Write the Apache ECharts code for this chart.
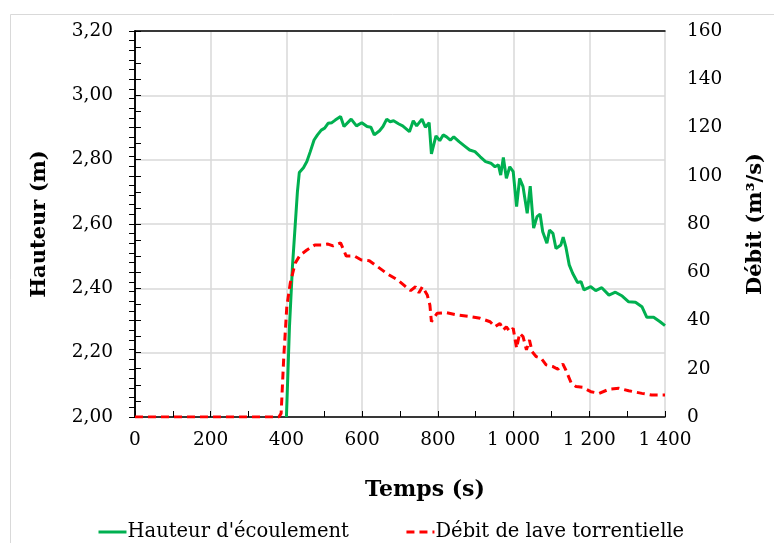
<!DOCTYPE html>
<html>
<head>
<meta charset="utf-8">
<script src="https://cdn.jsdelivr.net/npm/echarts@6/dist/echarts.min.js"></script>
<style>html,body{margin:0;padding:0;background:#fff}#c{width:774px;height:543px}</style>
</head>
<body>
<div id="c"></div>
<script>
// Data (time in s)
const hauteurTime = [400,408,416,429,434,445,454,463,473,482,492,501,510,520,529,543,552,571,585,599,613,623,632,646,655,665,674,683,697,707,725,735,744,758,767,777,783,795,805,814,823,833,842,856,870,884,898,912,926,940,951,960,966,973,981,990,999,1008,1016,1025,1036,1044,1053,1062,1070,1077,1088,1095,1104,1112,1125,1131,1138,1147,1156,1169,1178,1186,1204,1217,1233,1252,1269,1287,1304,1322,1339,1352,1370,1387,1400];
const hauteurValues = [2.00,2.28,2.47,2.70,2.76,2.775,2.794,2.825,2.861,2.877,2.892,2.898,2.913,2.915,2.923,2.934,2.903,2.926,2.905,2.915,2.903,2.901,2.877,2.890,2.903,2.926,2.918,2.921,2.911,2.905,2.887,2.921,2.905,2.926,2.901,2.915,2.818,2.874,2.859,2.877,2.871,2.861,2.871,2.856,2.843,2.830,2.825,2.809,2.794,2.789,2.778,2.784,2.752,2.807,2.742,2.778,2.763,2.654,2.742,2.716,2.633,2.718,2.587,2.623,2.631,2.576,2.540,2.581,2.571,2.524,2.535,2.559,2.529,2.473,2.447,2.418,2.421,2.395,2.405,2.393,2.402,2.379,2.388,2.376,2.358,2.357,2.343,2.310,2.310,2.296,2.284];
const debitTime = [0,100,200,300,380,386,393,401,410,423,436,454,475,493,510,523,543,558,580,598,619,641,667,694,715,728,741,750,759,772,779,783,798,824,851,885,912,938,951,964,973,981,990,999,1008,1016,1025,1034,1042,1049,1060,1073,1086,1104,1117,1130,1138,1152,1165,1182,1204,1226,1252,1278,1304,1339,1365,1400];
const debitValues = [0,0,0,0,0,1.5,25,45.7,55.4,63.7,67.1,69.2,71.3,71.3,71.7,70.9,72.2,66.7,66.7,65.1,64.8,62.3,59.3,56.8,54,52.4,54,51.5,54,50.6,46.4,39.5,43,43.2,42.3,41.6,40.9,39.5,37.4,38.8,36.1,37.4,35.4,36.8,28.5,34.7,33.3,27.8,31.9,27.1,25,24.3,21.6,20.9,19.8,22,19.5,14.2,12.6,12.3,10.5,9.8,11.5,11.9,10.9,9.8,9.1,9.1];
const seriesNames = ["Hauteur d'écoulement", "Débit de lave torrentielle"];
const xTitle = "Temps (s)";
const yLeftTitle = "Hauteur (m)";
const yRightTitle = "Débit (m³/s)";

const FONT = "DejaVu Serif";
const zip = (a, b) => a.map((t, i) => [t, b[i]]);
const fmtX = v => { const s = String(Math.round(v)); return s.length > 3 ? s.slice(0, -3) + ' ' + s.slice(-3) : s; };

const chart = echarts.init(document.getElementById('c'), null, {renderer: 'canvas'});
chart.setOption({
  animation: false,
  backgroundColor: '#fff',
  graphic: [{type: 'rect', shape: {x: 10.5, y: 14.5, width: 900, height: 700}, style: {fill: 'none', stroke: '#d9d9d9', lineWidth: 1}, silent: true, z: -1}],
  grid: {left: 135, right: 104, top: 31, bottom: 126, containLabel: false},
  legend: {
    left: 92, top: 517, itemWidth: 28, itemHeight: 14, itemGap: 56,
    itemStyle: {opacity: 0},
    lineStyle: {width: 3},
    textStyle: {fontFamily: FONT, fontSize: 19.5, color: '#000', padding: [0, 0, 0, -4]},
    data: seriesNames
  },
  xAxis: [{
    type: 'value', min: 0, max: 1400, interval: 200,
    axisLine: {show: true, lineStyle: {color: '#000', width: 1.5}},
    axisTick: {show: true, inside: true, length: 6, lineStyle: {color: '#000'}},
    minorTick: {show: true, splitNumber: 2, length: 6, lineStyle: {color: '#000'}},
    axisLabel: {fontFamily: FONT, fontSize: 18.5, color: '#000', margin: 14, formatter: fmtX},
    splitLine: {show: true, lineStyle: {color: '#d9d9d9', width: 1.5}},
    name: xTitle, nameLocation: 'middle', nameGap: 62,
    nameTextStyle: {fontFamily: FONT, fontSize: 22, fontWeight: 'bold', color: '#000', padding: [0, 0, 0, 50]}
  }, {
    type: 'value', min: 0, max: 1400, position: 'top',
    axisLine: {show: true, onZero: false, lineStyle: {color: '#000', width: 1.5}},
    axisTick: {show: false}, axisLabel: {show: false}, splitLine: {show: false}
  }],
  yAxis: [{
    type: 'value', min: 2.0, max: 3.2, interval: 0.2, position: 'left',
    axisLine: {show: true, lineStyle: {color: '#000', width: 1.5}},
    axisTick: {show: true, inside: true, length: 6, lineStyle: {color: '#000'}},
    minorTick: {show: true, splitNumber: 4, length: 6, lineStyle: {color: '#000'}},
    axisLabel: {fontFamily: FONT, fontSize: 18.5, color: '#000', margin: 22, formatter: v => v.toFixed(2).replace('.', ',')},
    splitLine: {show: true, lineStyle: {color: '#d9d9d9', width: 1.5}},
    name: yLeftTitle, nameLocation: 'middle', nameGap: 85, nameRotate: 90,
    nameTextStyle: {fontFamily: FONT, fontSize: 21, fontWeight: 'bold', color: '#000'}
  }, {
    type: 'value', min: 0, max: 160, interval: 20, position: 'right',
    axisLine: {show: true, lineStyle: {color: '#000', width: 1.5}},
    axisTick: {show: true, inside: true, length: 6, lineStyle: {color: '#000'}},
    minorTick: {show: true, splitNumber: 5, length: 6, lineStyle: {color: '#000'}},
    axisLabel: {fontFamily: FONT, fontSize: 18.5, color: '#000', margin: 22},
    splitLine: {show: false},
    name: yRightTitle, nameLocation: 'middle', nameGap: 80, nameRotate: 90,
    nameTextStyle: {fontFamily: FONT, fontSize: 21, fontWeight: 'bold', color: '#000'}
  }],
  series: [{
    name: seriesNames[0], type: 'line', xAxisIndex: 0, yAxisIndex: 0,
    data: zip(hauteurTime, hauteurValues), showSymbol: false, symbol: 'none',
    lineStyle: {color: '#00b050', width: 3}, itemStyle: {color: '#00b050'}, z: 2
  }, {
    name: seriesNames[1], type: 'line', xAxisIndex: 0, yAxisIndex: 1,
    data: zip(debitTime, debitValues), showSymbol: false, symbol: 'none',
    lineStyle: {color: '#ff0000', width: 3, type: [8, 5]}, itemStyle: {color: '#ff0000'}, z: 3
  }]
});
</script>
</body>
</html>
